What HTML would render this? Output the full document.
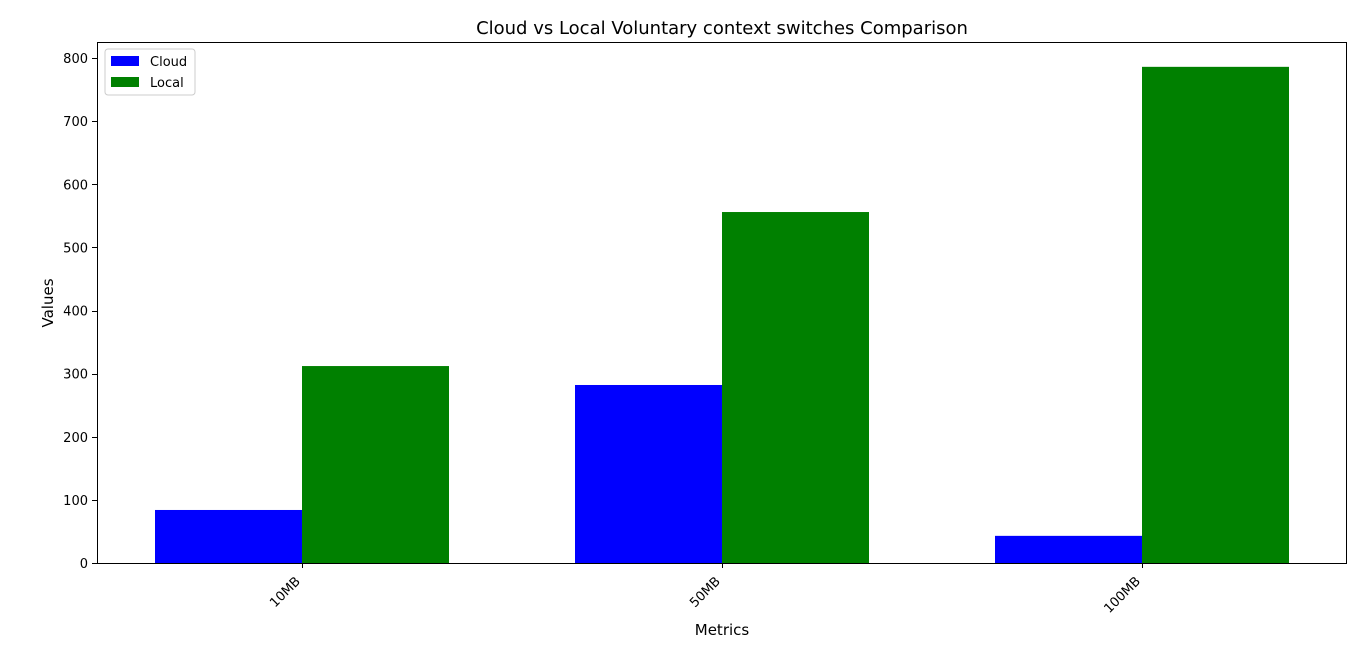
<!DOCTYPE html>
<html><head><meta charset="utf-8"><style>
body{margin:0;background:#fff;font-family:"Liberation Sans","DejaVu Sans",sans-serif;}
svg text{font-family:"DejaVu Sans","Liberation Sans",sans-serif;}
</style></head><body>
<svg id="chart" width="1366" height="662" xmlns="http://www.w3.org/2000/svg">
<rect width="1366" height="662" fill="#fff"/>
<text x="722" y="34" font-size="18" text-anchor="middle">Cloud vs Local Voluntary context switches Comparison</text>
<g id="bars"></g>
<g id="yticks"></g>
<g id="xticks"></g>
<rect x="97.5" y="42.5" width="1249" height="521" fill="none" stroke="#000" stroke-width="1"/>
<text x="722" y="635" font-size="15" text-anchor="middle">Metrics</text>
<text transform="translate(53,303) rotate(-90)" font-size="15" text-anchor="middle">Values</text>
<g>
<rect x="105" y="49" width="90" height="46" fill="#fff" stroke="#ccc" rx="3"/>
<rect x="111" y="56" width="28" height="10" fill="#0000ff"/>
<text x="150" y="66" font-size="13">Cloud</text>
<rect x="111" y="77" width="28" height="10" fill="#008000"/>
<text x="150" y="87" font-size="13">Local</text>
</g>
</svg>
<script>
const categories=["10MB","50MB","100MB"];
const cloudValues=[84,282,43];
const localValues=[312,556,786];
const yTicks=[0,100,200,300,400,500,600,700,800];
const NS="http://www.w3.org/2000/svg";
function y(v){return 563-v*(505/800);}
function x(i){return 302+420*i;}
const bw=147;
const bars=document.getElementById('bars');
function mk(t,a){const e=document.createElementNS(NS,t);for(const k in a)e.setAttribute(k,a[k]);return e;}
categories.forEach((c,i)=>{
  const b1=mk('rect',{x:x(i)-bw,y:y(cloudValues[i]),width:bw,height:563-y(cloudValues[i]),fill:'#0000ff'});
  
  
  bars.appendChild(b1);
  const b2=mk('rect',{x:x(i),y:y(localValues[i]),width:bw,height:563-y(localValues[i]),fill:'#008000'});
  
  
  bars.appendChild(b2);
  const xt=document.getElementById('xticks');
  const tk=mk('line',{x1:x(i)+.5,x2:x(i)+.5,y1:563,y2:568,stroke:'#000'});
  
  
  xt.appendChild(tk);
  const tl=mk('text',{x:0,y:0,'font-size':13,'text-anchor':'end',transform:`translate(${x(i)-1},${582}) rotate(-45)`});
  tl.textContent=c;
  
  
  xt.appendChild(tl);
});
const yt=document.getElementById('yticks');
yTicks.forEach(v=>{
  const l=mk('line',{x1:92,x2:97,y1:Math.round(y(v))+.5,y2:Math.round(y(v))+.5,stroke:'#000'});
  
  
  yt.appendChild(l);
  const t=mk('text',{x:88,y:y(v)+5,'font-size':13,'text-anchor':'end'});
  t.textContent=v;
  
  
  yt.appendChild(t);
});
</script>
</body></html>
